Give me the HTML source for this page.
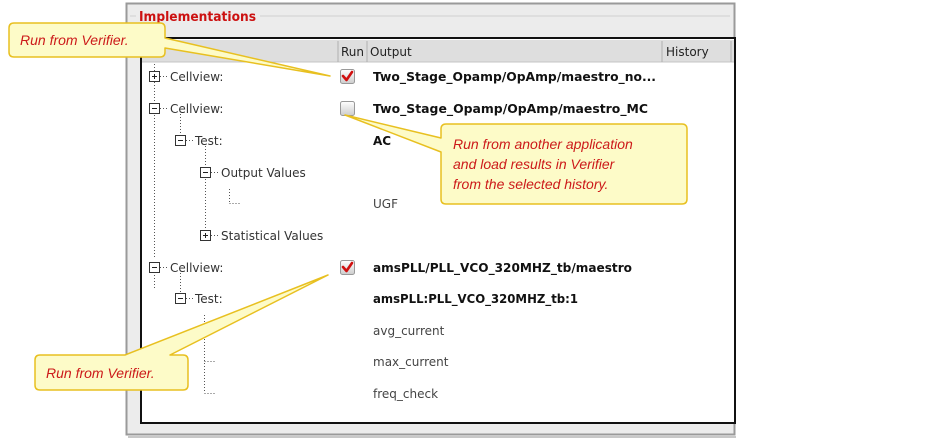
<!DOCTYPE html>
<html><head><meta charset="utf-8"><style>
html,body{margin:0;padding:0;background:#fff;width:936px;height:445px;overflow:hidden}
svg{display:block}
text{font-family:"Liberation Sans","DejaVu Sans",sans-serif}
.t{font-family:"DejaVu Sans","Liberation Sans",sans-serif}
</style></head><body>
<svg width="936" height="445" viewBox="0 0 936 445" xmlns="http://www.w3.org/2000/svg">
<defs>
<linearGradient id="cb" x1="0" y1="0" x2="0" y2="1"><stop offset="0" stop-color="#fff"/><stop offset="1" stop-color="#ccc"/></linearGradient>
</defs>
<rect x="126.5" y="3.5" width="608" height="431" fill="#ececec" stroke="#9a9a9a" stroke-width="2"/>
<line x1="128" y1="437" x2="736" y2="437" stroke="#c8c8c8" stroke-width="2"/>
<line x1="130" y1="16" x2="730" y2="16" stroke="#d0d0d0"/>
<rect x="136" y="7" width="124" height="18" fill="#ececec"/>
<text x="139" y="21" font-size="13.5" font-weight="bold" fill="#cc1111" class="t" textLength="117" lengthAdjust="spacingAndGlyphs">Implementations</text>
<rect x="141" y="38" width="594" height="385" fill="#fff" stroke="#111" stroke-width="2"/>
<rect x="142" y="40" width="592" height="22" fill="#dedede"/>
<line x1="142" y1="62" x2="734" y2="62" stroke="#c4c4c4"/>
<line x1="338" y1="41" x2="338" y2="62" stroke="#b0b0b0"/>
<line x1="367" y1="41" x2="367" y2="62" stroke="#b0b0b0"/>
<line x1="662" y1="41" x2="662" y2="62" stroke="#b0b0b0"/>
<line x1="731" y1="41" x2="731" y2="62" stroke="#b0b0b0"/>
<g class="t" font-size="12" fill="#222">
<text x="341" y="56" class="t">Run</text>
<text x="370" y="56" class="t">Output</text>
<text x="666" y="56" class="t">History</text>
</g>

<g stroke="#555" stroke-dasharray="1,2" fill="none">
<line x1="154.5" y1="64" x2="154.5" y2="258"/>
<line x1="154.5" y1="272" x2="154.5" y2="290"/>
<line x1="160" y1="76.5" x2="168" y2="76.5"/>
<line x1="160" y1="108.5" x2="168" y2="108.5"/>
<line x1="160" y1="267.5" x2="168" y2="267.5"/>
<line x1="180.5" y1="114" x2="180.5" y2="134"/>
<line x1="186" y1="140.5" x2="193" y2="140.5"/>
<line x1="180.5" y1="273" x2="180.5" y2="292"/>
<line x1="186" y1="298.5" x2="193" y2="298.5"/>
<line x1="205.5" y1="146" x2="205.5" y2="229"/>
<line x1="211" y1="172.5" x2="218" y2="172.5"/>
<line x1="211" y1="235.5" x2="218" y2="235.5"/>
<line x1="229.5" y1="189" x2="229.5" y2="203"/>
<line x1="229.5" y1="203.5" x2="240" y2="203.5"/>
<line x1="204.5" y1="315" x2="204.5" y2="393"/>
<line x1="204.5" y1="361.5" x2="215" y2="361.5"/>
<line x1="204.5" y1="393.5" x2="215" y2="393.5"/>
</g>
<g fill="#fff" stroke="#333">
<rect x="149.5" y="71.5" width="10" height="10"/>
<rect x="149.5" y="103.5" width="10" height="10"/>
<rect x="175.5" y="135.5" width="10" height="10"/>
<rect x="200.5" y="167.5" width="10" height="10"/>
<rect x="200.5" y="230.5" width="10" height="10"/>
<rect x="149.5" y="262.5" width="10" height="10"/>
<rect x="175.5" y="293.5" width="10" height="10"/>
</g>
<g stroke="#222">
<line x1="152" y1="76.5" x2="157" y2="76.5"/><line x1="154.5" y1="74" x2="154.5" y2="79"/>
<line x1="152" y1="108.5" x2="157" y2="108.5"/>
<line x1="178" y1="140.5" x2="183" y2="140.5"/>
<line x1="203" y1="172.5" x2="208" y2="172.5"/>
<line x1="203" y1="235.5" x2="208" y2="235.5"/><line x1="205.5" y1="233" x2="205.5" y2="238"/>
<line x1="152" y1="267.5" x2="157" y2="267.5"/>
<line x1="178" y1="298.5" x2="183" y2="298.5"/>
</g>
<g font-size="12" fill="#333">
<text class="t" x="170" y="81">Cellview:</text>
<text class="t" x="170" y="113">Cellview:</text>
<text class="t" x="195" y="145">Test:</text>
<text class="t" x="221" y="177">Output Values</text>
<text class="t" x="221" y="240">Statistical Values</text>
<text class="t" x="170" y="272">Cellview:</text>
<text class="t" x="195" y="303">Test:</text>
</g>
<g stroke="#999" fill="url(#cb)">
<rect x="340.5" y="69.5" width="14" height="14" rx="2"/>
<rect x="340.5" y="101.5" width="14" height="14" rx="2"/>
<rect x="340.5" y="260.5" width="14" height="14" rx="2"/>
</g>
<g stroke="#d01010" stroke-width="2.6" fill="none" stroke-linecap="round" stroke-linejoin="round">
<polyline points="343,76 346.5,80 352,72"/>
<polyline points="343,267 346.5,271 352,263"/>
</g>
<g font-size="12" fill="#111">
<text class="t" x="373" y="81" font-weight="bold" textLength="283" lengthAdjust="spacingAndGlyphs">Two_Stage_Opamp/OpAmp/maestro_no...</text>
<text class="t" x="373" y="113" font-weight="bold" textLength="275" lengthAdjust="spacingAndGlyphs">Two_Stage_Opamp/OpAmp/maestro_MC</text>
<text class="t" x="373" y="145" font-weight="bold">AC</text>
<text class="t" x="373" y="208" fill="#444">UGF</text>
<text class="t" x="373" y="272" font-weight="bold" textLength="259" lengthAdjust="spacingAndGlyphs">amsPLL/PLL_VCO_320MHZ_tb/maestro</text>
<text class="t" x="373" y="303" font-weight="bold" textLength="205" lengthAdjust="spacingAndGlyphs">amsPLL:PLL_VCO_320MHZ_tb:1</text>
<text class="t" x="373" y="335" fill="#444">avg_current</text>
<text class="t" x="373" y="366" fill="#444">max_current</text>
<text class="t" x="373" y="398" fill="#444">freq_check</text>
</g>

<g fill="#fdfbc8" stroke="#e8c020" stroke-width="1.5" stroke-linejoin="round">
<path d="M14,23 H160 Q165,23 165,28 V38 L330,76 L165,48 V52 Q165,57 160,57 H14 Q9,57 9,52 V28 Q9,23 14,23 Z"/>
<path d="M446,124 H682 Q687,124 687,129 V199 Q687,204 682,204 H446 Q441,204 441,199 V152 L345,115 L441,138 V129 Q441,124 446,124 Z"/>
<path d="M40,355 H125 L328,275 L170,355 H183 Q188,355 188,360 V385 Q188,390 183,390 H40 Q35,390 35,385 V360 Q35,355 40,355 Z"/>
</g>
<g font-size="14" font-style="italic" fill="#cc1a1a">
<text x="20" y="45">Run from Verifier.</text>
<text x="453" y="149">Run from another application</text>
<text x="453" y="169">and load results in Verifier</text>
<text x="453" y="189">from the selected history.</text>
<text x="46" y="378">Run from Verifier.</text>
</g>
</svg>
</body></html>
